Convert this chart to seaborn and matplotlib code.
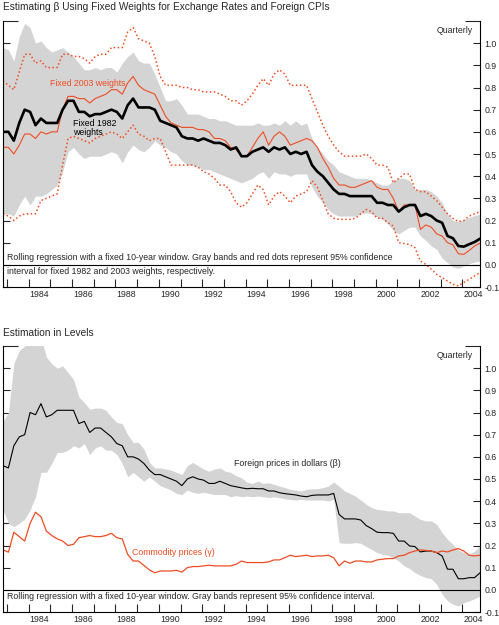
import numpy as np
import pandas as pd
import matplotlib
matplotlib.use("Agg")
import matplotlib.pyplot as plt
import seaborn as sns
from matplotlib.ticker import FixedLocator, FormatStrFormatter, NullFormatter

# quarterly dates, 1982Q4 - 2004Q4
quarters = pd.period_range("1982Q4", "2004Q4", freq="Q")

# top panel: beta with fixed weights
beta_1982 = [0.60, 0.60, 0.56, 0.64, 0.70, 0.69, 0.63, 0.66, 0.64, 0.64, 0.64, 0.70, 0.74, 0.74, 0.69,
             0.69, 0.67, 0.68, 0.68, 0.69, 0.70, 0.69, 0.66, 0.72, 0.75, 0.71, 0.71, 0.71, 0.70, 0.65,
             0.64, 0.63, 0.62, 0.58, 0.57, 0.57, 0.56, 0.57, 0.56, 0.55, 0.55, 0.54, 0.52, 0.53, 0.49,
             0.49, 0.51, 0.52, 0.53, 0.51, 0.53, 0.52, 0.53, 0.50, 0.51, 0.50, 0.51, 0.45, 0.42, 0.40,
             0.37, 0.34, 0.32, 0.32, 0.31, 0.31, 0.31, 0.31, 0.31, 0.28, 0.28, 0.27, 0.27, 0.24, 0.26,
             0.27, 0.27, 0.22, 0.23, 0.22, 0.20, 0.19, 0.13, 0.12, 0.085, 0.082, 0.093, 0.103, 0.118]
beta_2003 = [0.53, 0.53, 0.50, 0.54, 0.59, 0.59, 0.57, 0.60, 0.59, 0.60, 0.60, 0.70, 0.76, 0.76, 0.75,
             0.75, 0.73, 0.75, 0.76, 0.77, 0.79, 0.79, 0.77, 0.82, 0.85, 0.81, 0.79, 0.78, 0.77, 0.72,
             0.67, 0.64, 0.63, 0.62, 0.62, 0.62, 0.61, 0.61, 0.60, 0.57, 0.57, 0.56, 0.53, 0.52, 0.49,
             0.49, 0.53, 0.57, 0.60, 0.54, 0.58, 0.60, 0.58, 0.54, 0.55, 0.56, 0.57, 0.56, 0.53, 0.48,
             0.44, 0.39, 0.36, 0.36, 0.35, 0.35, 0.36, 0.37, 0.38, 0.35, 0.34, 0.34, 0.30, 0.24, 0.27,
             0.27, 0.27, 0.16, 0.18, 0.17, 0.14, 0.13, 0.10, 0.09, 0.05, 0.047, 0.065, 0.085, 0.098]
band82_hi = [0.98, 0.97, 0.92, 1.03, 1.09, 1.07, 1.00, 1.01, 0.98, 0.96, 0.97, 0.98, 0.96, 0.94, 0.91,
             0.88, 0.88, 0.89, 0.88, 0.89, 0.89, 0.87, 0.91, 0.94, 0.96, 0.92, 0.91, 0.91, 0.86, 0.80,
             0.74, 0.74, 0.75, 0.72, 0.68, 0.68, 0.68, 0.67, 0.66, 0.66, 0.65, 0.65, 0.64, 0.63, 0.63,
             0.63, 0.63, 0.64, 0.63, 0.63, 0.64, 0.63, 0.65, 0.63, 0.65, 0.63, 0.64, 0.57, 0.53, 0.50,
             0.47, 0.45, 0.42, 0.41, 0.40, 0.39, 0.39, 0.39, 0.38, 0.37, 0.36, 0.36, 0.38, 0.39, 0.39,
             0.38, 0.34, 0.34, 0.34, 0.33, 0.31, 0.28, 0.23, 0.20, 0.195, 0.205, 0.213, 0.223, 0.228]
band82_lo = [0.23, 0.23, 0.22, 0.27, 0.31, 0.27, 0.31, 0.31, 0.32, 0.34, 0.36, 0.42, 0.51, 0.53, 0.50,
             0.48, 0.49, 0.49, 0.49, 0.50, 0.51, 0.50, 0.46, 0.51, 0.54, 0.52, 0.51, 0.53, 0.56, 0.54,
             0.53, 0.51, 0.50, 0.47, 0.45, 0.45, 0.44, 0.43, 0.43, 0.42, 0.41, 0.40, 0.39, 0.38, 0.37,
             0.38, 0.39, 0.41, 0.42, 0.39, 0.42, 0.41, 0.41, 0.40, 0.41, 0.41, 0.41, 0.35, 0.31, 0.28,
             0.25, 0.23, 0.22, 0.22, 0.22, 0.22, 0.23, 0.235, 0.23, 0.215, 0.205, 0.185, 0.155, 0.14, 0.155,
             0.17, 0.17, 0.13, 0.11, 0.085, 0.07, 0.03, 0.01, -0.01, -0.016, -0.005, 0.005, 0.013, 0.017]
ci03_hi = [0.83, 0.81, 0.79, 0.87, 0.95, 0.95, 0.91, 0.92, 0.89, 0.89, 0.89, 0.95, 0.95, 0.94, 0.94,
           0.93, 0.91, 0.94, 0.95, 0.95, 0.98, 0.98, 0.98, 1.05, 1.07, 1.02, 1.01, 1.00, 0.94, 0.85,
           0.81, 0.81, 0.81, 0.80, 0.80, 0.79, 0.79, 0.78, 0.78, 0.78, 0.77, 0.76, 0.74, 0.74, 0.72,
           0.74, 0.77, 0.81, 0.84, 0.81, 0.86, 0.88, 0.86, 0.81, 0.81, 0.81, 0.81, 0.75, 0.69, 0.63,
           0.58, 0.54, 0.51, 0.49, 0.49, 0.49, 0.49, 0.50, 0.48, 0.45, 0.45, 0.44, 0.37, 0.39, 0.41,
           0.41, 0.34, 0.33, 0.33, 0.31, 0.29, 0.26, 0.23, 0.21, 0.195, 0.20, 0.22, 0.23, 0.24]
ci03_lo = [0.23, 0.22, 0.20, 0.22, 0.23, 0.23, 0.23, 0.29, 0.30, 0.31, 0.32, 0.45, 0.57, 0.58, 0.57,
           0.56, 0.55, 0.57, 0.58, 0.59, 0.60, 0.59, 0.57, 0.60, 0.63, 0.59, 0.58, 0.56, 0.57, 0.57,
           0.51, 0.45, 0.45, 0.45, 0.45, 0.45, 0.44, 0.42, 0.41, 0.39, 0.36, 0.36, 0.33, 0.28, 0.26,
           0.28, 0.32, 0.36, 0.34, 0.27, 0.31, 0.33, 0.31, 0.28, 0.31, 0.32, 0.33, 0.38, 0.35, 0.29,
           0.23, 0.21, 0.205, 0.205, 0.205, 0.21, 0.23, 0.25, 0.24, 0.21, 0.21, 0.19, 0.175, 0.10, 0.096,
           0.092, 0.077, 0.017, 0.002, -0.02, -0.043, -0.058, -0.073, -0.088, -0.095, -0.08, -0.065, -0.05, -0.035]

# bottom panel: estimation in levels
beta_lev = [0.56, 0.55, 0.65, 0.69, 0.70, 0.80, 0.79, 0.84, 0.78, 0.79, 0.81, 0.81, 0.81, 0.81, 0.75,
            0.76, 0.71, 0.73, 0.73, 0.71, 0.69, 0.66, 0.65, 0.60, 0.60, 0.59, 0.57, 0.54, 0.52, 0.52,
            0.51, 0.50, 0.49, 0.47, 0.50, 0.51, 0.50, 0.495, 0.48, 0.48, 0.49, 0.48, 0.47, 0.465, 0.46,
            0.456, 0.458, 0.456, 0.456, 0.446, 0.446, 0.438, 0.434, 0.431, 0.428, 0.423, 0.42, 0.426, 0.428, 0.428,
            0.428, 0.435, 0.34, 0.32, 0.32, 0.32, 0.315, 0.29, 0.276, 0.26, 0.258, 0.258, 0.255, 0.22, 0.22,
            0.198, 0.195, 0.171, 0.175, 0.175, 0.168, 0.153, 0.093, 0.093, 0.05, 0.05, 0.055, 0.055, 0.077]
band_lev_hi = [0.76, 0.80, 1.02, 1.08, 1.10, 1.14, 1.15, 1.14, 1.05, 1.02, 1.00, 1.01, 0.98, 0.95, 0.87,
               0.845, 0.815, 0.82, 0.82, 0.81, 0.78, 0.755, 0.75, 0.70, 0.665, 0.665, 0.635, 0.575, 0.55, 0.55,
               0.545, 0.54, 0.53, 0.52, 0.56, 0.575, 0.56, 0.545, 0.535, 0.545, 0.55, 0.535, 0.53, 0.515, 0.505,
               0.486, 0.48, 0.491, 0.48, 0.483, 0.476, 0.468, 0.461, 0.453, 0.45, 0.446, 0.453, 0.456, 0.456, 0.461,
               0.468, 0.486, 0.468, 0.446, 0.435, 0.423, 0.405, 0.386, 0.371, 0.363, 0.36, 0.356, 0.356, 0.348, 0.348,
               0.348, 0.333, 0.318, 0.311, 0.311, 0.296, 0.258, 0.228, 0.205, 0.18, 0.168, 0.16, 0.175, 0.198]
band_lev_lo = [0.36, 0.30, 0.285, 0.30, 0.32, 0.36, 0.42, 0.53, 0.53, 0.57, 0.62, 0.62, 0.63, 0.65, 0.64,
               0.66, 0.61, 0.64, 0.65, 0.63, 0.63, 0.61, 0.57, 0.51, 0.53, 0.51, 0.49, 0.51, 0.49, 0.47,
               0.46, 0.45, 0.435, 0.43, 0.45, 0.44, 0.435, 0.44, 0.435, 0.43, 0.43, 0.43, 0.42, 0.425, 0.42,
               0.423, 0.42, 0.423, 0.42, 0.416, 0.419, 0.416, 0.411, 0.408, 0.405, 0.408, 0.405, 0.405, 0.405, 0.405,
               0.401, 0.408, 0.213, 0.21, 0.21, 0.213, 0.21, 0.195, 0.183, 0.168, 0.16, 0.156, 0.145, 0.13, 0.108,
               0.096, 0.077, 0.065, 0.055, 0.05, 0.025, -0.02, -0.05, -0.065, -0.073, -0.058, -0.05, -0.04, -0.028]
gamma_lev = [0.18, 0.17, 0.26, 0.24, 0.22, 0.30, 0.35, 0.33, 0.265, 0.245, 0.23, 0.22, 0.20, 0.205, 0.235,
             0.24, 0.245, 0.24, 0.24, 0.245, 0.255, 0.235, 0.23, 0.16, 0.13, 0.13, 0.11, 0.09, 0.077, 0.085,
             0.085, 0.085, 0.088, 0.08, 0.10, 0.105, 0.105, 0.108, 0.111, 0.108, 0.108, 0.108, 0.108, 0.115, 0.13,
             0.123, 0.123, 0.123, 0.123, 0.126, 0.135, 0.135, 0.145, 0.156, 0.15, 0.153, 0.156, 0.15, 0.153, 0.153,
             0.156, 0.145, 0.108, 0.13, 0.12, 0.13, 0.13, 0.126, 0.126, 0.135, 0.138, 0.141, 0.141, 0.153, 0.156,
             0.168, 0.175, 0.18, 0.178, 0.175, 0.168, 0.175, 0.171, 0.18, 0.186, 0.175, 0.156, 0.153, 0.156]

year_ticks = list(range(1983, 2005))
year_labels = [str(y) for y in range(1984, 2005, 2)]
y_ticks = [-0.1, 0.0, 0.1, 0.2, 0.3, 0.4, 0.5, 0.6, 0.7, 0.8, 0.9, 1.0]

RED = "#EF4C24"
GRAY = "#D4D4D4"
SMALL = 6.3

sns.set_style("ticks")
plt.rcParams["font.family"] = ["Liberation Sans", "DejaVu Sans"]
plt.rcParams["axes.unicode_minus"] = False

x = np.asarray(quarters.year + (quarters.quarter - 1) / 4 + 0.0625, dtype=float)

fig = plt.figure(figsize=(4.99, 6.25), dpi=100)
ax1 = fig.add_axes([0.006, 0.5408, 0.956, 0.4256])
ax2 = fig.add_axes([0.006, 0.0208, 0.956, 0.4256])


def style_axes(ax):
    ax.set_xlim(x[0], x[-1])
    ax.set_ylim(-0.1, 1.1)
    for side in ["left", "right", "bottom"]:
        ax.spines[side].set_visible(True)
        ax.spines[side].set_color("black")
        ax.spines[side].set_linewidth(0.8)
    ax.spines["top"].set_visible(False)
    ax.yaxis.set_major_locator(FixedLocator(y_ticks))
    ax.yaxis.set_major_formatter(FormatStrFormatter("%.1f"))
    ax.yaxis.set_minor_locator(FixedLocator([1.1]))
    ax.tick_params(axis="y", which="major", direction="in", length=5, width=0.8,
                   left=True, right=True, labelleft=False, labelright=True,
                   labelsize=SMALL, pad=3)
    ax.tick_params(axis="y", which="minor", direction="in", length=11, width=0.8,
                   left=True, right=True)
    ax.xaxis.set_major_locator(FixedLocator([int(s) + 0.5 for s in year_labels]))
    ax.set_xticklabels(year_labels)
    ax.xaxis.set_minor_locator(FixedLocator(year_ticks))
    ax.xaxis.set_minor_formatter(NullFormatter())
    ax.tick_params(axis="x", which="major", length=0, labelsize=SMALL, pad=2.5)
    ax.tick_params(axis="x", which="minor", direction="in", length=6, width=0.8)
    ax.axhline(0, color="black", lw=0.8, zorder=5)
    ax.set_xlabel("")
    ax.set_ylabel("")
    ax.text(0.985, 0.965, "Quarterly", transform=ax.transAxes, ha="right", va="center", fontsize=SMALL)


# --- top panel
ax1.fill_between(x, band82_lo, band82_hi, color=GRAY, lw=0)
sns.lineplot(x=x, y=ci03_hi, ax=ax1, color=RED, lw=1.1, linestyle=(0, (1, 1.6)), sort=False)
sns.lineplot(x=x, y=ci03_lo, ax=ax1, color=RED, lw=1.1, linestyle=(0, (1, 1.6)), sort=False)
sns.lineplot(x=x, y=beta_2003, ax=ax1, color=RED, lw=0.8, sort=False)
sns.lineplot(x=x, y=beta_1982, ax=ax1, color="black", lw=1.9, sort=False)
style_axes(ax1)
ax1.text(1985.0, 0.82, "Fixed 2003 weights", color=RED, fontsize=SMALL, va="center")
ax1.text(1986.05, 0.617, "Fixed 1982\nweights", color="black", fontsize=SMALL, va="center",
         linespacing=0.95)
ax1.text(1983.0, 0.031, "Rolling regression with a fixed 10-year window. Gray bands and red dots represent 95% confidence",
         fontsize=SMALL, va="center")
ax1.text(1983.0, -0.032, "interval for fixed 1982 and 2003 weights, respectively.", fontsize=SMALL, va="center")

# --- bottom panel
ax2.fill_between(x, band_lev_lo, band_lev_hi, color=GRAY, lw=0)
sns.lineplot(x=x, y=beta_lev, ax=ax2, color="black", lw=0.8, sort=False)
sns.lineplot(x=x, y=gamma_lev, ax=ax2, color=RED, lw=0.9, sort=False)
style_axes(ax2)
ax2.text(1993.48, 0.568, "Foreign prices in dollars (β)", fontsize=SMALL, va="center")
ax2.text(1988.74, 0.168, "Commodity prices (γ)", color=RED, fontsize=SMALL, va="center")
ax2.text(1983.0, -0.032, "Rolling regression with a fixed 10-year window. Gray bands represent 95% confidence interval.",
         fontsize=SMALL, va="center")

fig.text(0.006, 0.9895, "Estimating β Using Fixed Weights for Exchange Rates and Foreign CPIs",
         fontsize=7.3, va="center", ha="left")
fig.text(0.006, 0.467, "Estimation in Levels", fontsize=7.3, va="center", ha="left")

fig.savefig("out.png", dpi=100)
